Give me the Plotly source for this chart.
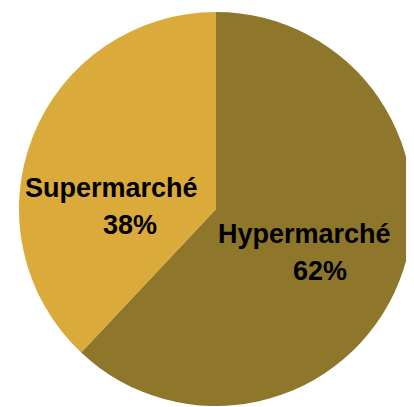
import plotly.graph_objects as go

labels = ["Hypermarché", "Supermarché"]
values = [62, 38]
pct_text = ["62%", "38%"]
colors = ["#8E762A", "#DAAA3A"]

W, H = 414, 407
ML, MR, MT, MB = 11, 9, 4, 9
OFF = 8  # default page body margin

fig = go.Figure(go.Pie(
    labels=labels, values=values, sort=False, direction="clockwise",
    rotation=0, marker=dict(colors=colors, line=dict(width=0)),
    textinfo="none", hoverinfo="label+percent", showlegend=False,
))

def px2paper(x, y):
    x -= OFF
    y -= OFF
    return (x - ML) / (W - ML - MR), 1 - (y - MT) / (H - MT - MB)

font = dict(family="Liberation Sans, Arial, sans-serif", size=27, color="#000000")
label_pos = [((304, 234), (320, 271)), ((111, 188), (130, 225))]
anns = []
for lab, pct, (p1, p2) in zip(labels, pct_text, label_pos):
    for txt, (x, y) in ((lab, p1), (pct, p2)):
        xp, yp = px2paper(x, y)
        anns.append(dict(text="<b>%s</b>" % txt, x=xp, y=yp, xref="paper", yref="paper",
                         xanchor="center", yanchor="middle", showarrow=False, font=font))

fig.update_layout(
    width=W, height=H, margin=dict(l=ML, r=MR, t=MT, b=MB, pad=0),
    paper_bgcolor="white", plot_bgcolor="white", annotations=anns,
)
fig.write_html("out.html")
